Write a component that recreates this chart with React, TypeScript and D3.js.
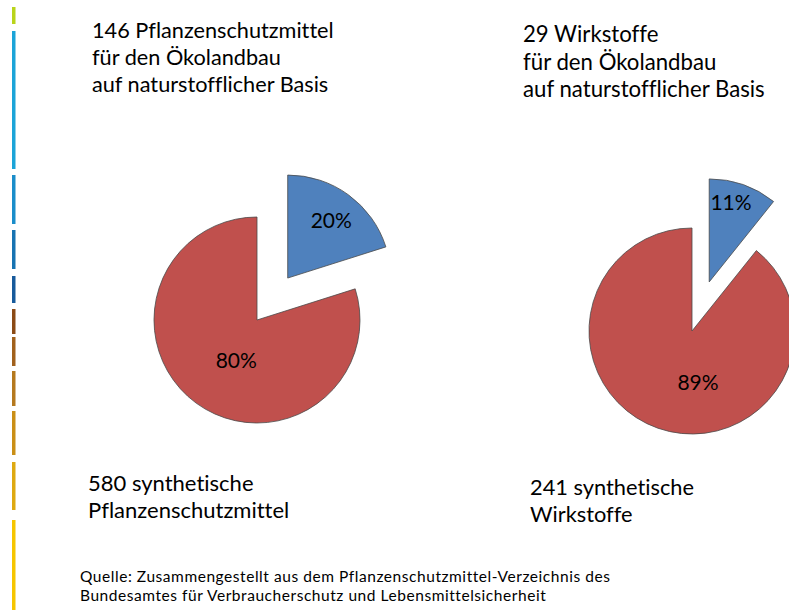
import React, { useRef, useEffect } from "react";
import * as d3 from "d3";

// Pflanzenschutzmittel (Mittel) und Wirkstoffe
const categories = ["naturstofflich", "synthetisch"];
const mittelCounts = [146, 580];
const wirkstoffCounts = [29, 241];

const topLabelsLeft = ["146 Pflanzenschutzmittel", "für den Ökolandbau", "auf naturstofflicher Basis"];
const topLabelsRight = ["29 Wirkstoffe", "für den Ökolandbau", "auf naturstofflicher Basis"];
const bottomLabelsLeft = ["580 synthetische", "Pflanzenschutzmittel"];
const bottomLabelsRight = ["241 synthetische", "Wirkstoffe"];
const sourceLines = [
  "Quelle: Zusammengestellt aus dem  Pflanzenschutzmittel-Verzeichnis des",
  "Bundesamtes für Verbraucherschutz und Lebensmittelsicherheit",
];

// dekorativer Balken am linken Rand
const stripeColors = ["#b9d41a", "#1ba4d8", "#1a8dca", "#1773b2", "#175a9b", "#8b4a15", "#a1611c", "#b5791e", "#ca8f16", "#dea911", "#f6c500"];
const stripeRanges = [[7, 24], [31, 169], [175, 224], [230, 269], [276, 303], [309, 334], [337, 366], [371, 406], [411, 455], [462, 510], [520, 610]];

const W = 789;
const H = 610;
const font = "Lato, 'Open Sans', sans-serif";
const colors = ["#4f81bd", "#c0504d"];

const App = () => {
  const ref = useRef(null);

  useEffect(() => {
    document.body.style.margin = "0";
    const svg = d3.select(ref.current);
    svg.selectAll("*").remove();

    svg.append("rect").attr("width", W).attr("height", H).attr("fill", "#fff");

    svg.selectAll(".stripe")
      .data(stripeRanges)
      .join("rect")
      .attr("x", 12)
      .attr("width", 3.5)
      .attr("y", (d) => d[0])
      .attr("height", (d) => d[1] - d[0])
      .attr("fill", (d, i) => stripeColors[i]);

    const r = 103;
    const explode = 52;
    const pie = d3.pie().sort(null).value((d) => d);
    const arc = d3.arc().innerRadius(0).outerRadius(r);

    const drawPie = (values, cx, cy, labelR, labelShift) => {
      const g = svg.append("g").attr("transform", `translate(${cx},${cy})`);
      const arcs = pie(values);
      const total = d3.sum(values);
      arcs.forEach((a, i) => {
        const mid = (a.startAngle + a.endAngle) / 2;
        const off = i === 0 ? explode : 0;
        const dx = Math.sin(mid) * off;
        const dy = -Math.cos(mid) * off;
        const sg = g.append("g").attr("transform", `translate(${dx},${dy})`);
        sg.append("path")
          .attr("d", arc(a))
          .attr("fill", colors[i])
          .attr("stroke", "#4a4a4a")
          .attr("stroke-width", 0.8)
          .attr("stroke-linejoin", "round");
        const la = mid + (labelShift[i] * Math.PI) / 180;
        const lr = labelR[i] * r;
        sg.append("text")
          .attr("x", Math.sin(la) * lr)
          .attr("y", -Math.cos(la) * lr)
          .attr("dy", "0.35em")
          .attr("text-anchor", "middle")
          .attr("font-family", font)
          .attr("font-size", 21)
          .attr("fill", "#000")
          .text(d3.format(".0%")(values[i] / total));
      });
    };

    drawPie(mittelCounts, 257, 320, [0.7, 0.44], [1, -9]);
    drawPie(wirkstoffCounts, 692, 331, [0.8, 0.5], [-4, -26]);

    const lines = (arr, x, y0, step, size, spacing = 0) => {
      svg.append("g")
        .selectAll("text")
        .data(arr)
        .join("text")
        .attr("x", x)
        .attr("y", (d, i) => y0 + i * step)
        .attr("font-family", font)
        .attr("font-size", size)
        .attr("letter-spacing", spacing)
        .style("font-variant-ligatures", "none")
        .attr("fill", "#000")
        .text((d) => d);
    };

    lines(topLabelsLeft, 92, 38, 27, 21.7);
    lines(topLabelsRight, 523, 42, 27.5, 22.2);
    lines(bottomLabelsLeft, 88, 491, 27, 22);
    lines(bottomLabelsRight, 530, 495, 27, 21.8);
    lines(sourceLines, 80, 582, 19, 15.5, 0.55);
  }, []);

  return <svg ref={ref} width={W} height={H} style={{ display: "block" }} />;
};

export default App;
